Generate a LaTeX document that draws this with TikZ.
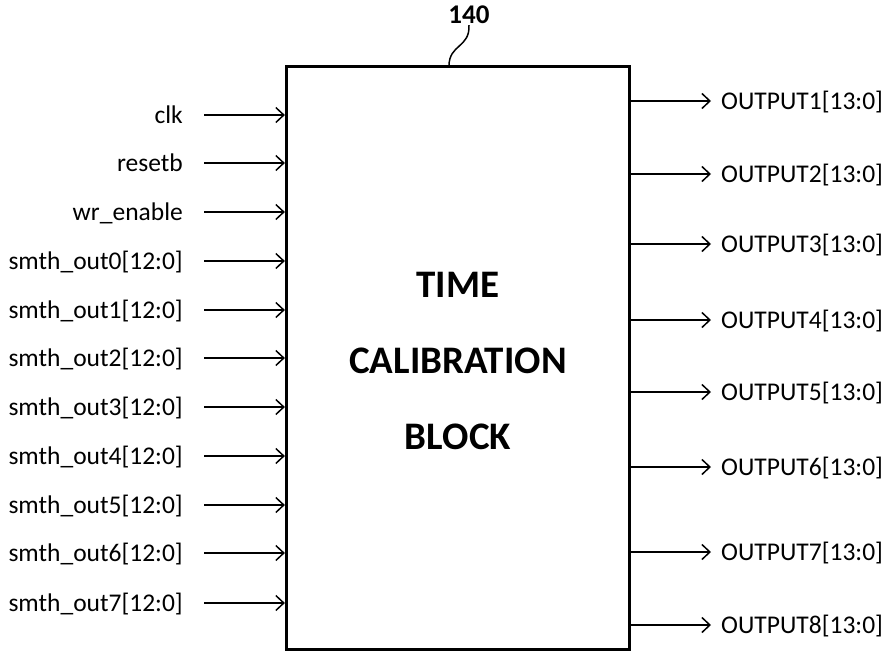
\documentclass[tikz,border=0pt]{standalone}
\usepackage{fontspec}
\setmainfont{Carlito}
\usetikzlibrary{arrows.meta}

\begin{document}
\begin{tikzpicture}[x=1pt, y=-1pt, >={Straight Barb[length=8pt,width=15pt,line width=1.5pt]},
  sig/.style={line width=1.8pt},
  inlbl/.style={anchor=east, inner xsep=21pt, inner ysep=0pt, text height=19pt, text depth=3pt, font=\fontsize{25.5}{28}\selectfont},
  outlbl/.style={anchor=west, inner xsep=10pt, inner ysep=0pt, text height=19pt, text depth=3pt, font=\fontsize{25.5}{28}\selectfont}]

  % Page frame
  \useasboundingbox (0,0) rectangle (887,654);

  % Block
  \node[draw, line width=3.2pt, minimum width=343pt, minimum height=583pt, inner sep=0pt] (tcb) at (458,358) {};
  \node[align=center, font=\fontsize{39}{76}\selectfont\bfseries] (title) at (458,361) {TIME\\CALIBRATION\\BLOCK};

  % Reference number
  \node[font=\fontsize{27}{28}\selectfont\bfseries, inner sep=1pt] (num) at (469,15) {140};
  \coordinate (lead) at (449,66);
  \draw[line width=1.5pt] (num.south) .. controls (470,48) and (449,44) .. (lead);

  % Inputs
  \node[inlbl] (clk) at (204,115) {clk};
  \node[inlbl] (rst) at (204,163) {resetb};
  \node[inlbl] (wren) at (204,212) {wr\_enable};
  \node[inlbl] (smth0) at (204,261) {smth\_out0[12:0]};
  \node[inlbl] (smth1) at (204,310) {smth\_out1[12:0]};
  \node[inlbl] (smth2) at (204,358) {smth\_out2[12:0]};
  \node[inlbl] (smth3) at (204,407) {smth\_out3[12:0]};
  \node[inlbl] (smth4) at (204,456) {smth\_out4[12:0]};
  \node[inlbl] (smth5) at (204,505) {smth\_out5[12:0]};
  \node[inlbl] (smth6) at (204,553) {smth\_out6[12:0]};
  \node[inlbl] (smth7) at (204,603) {smth\_out7[12:0]};

  \draw[->, sig] (clk) -- (clk -| tcb.west);
  \draw[->, sig] (rst) -- (rst -| tcb.west);
  \draw[->, sig] (wren) -- (wren -| tcb.west);
  \draw[->, sig] (smth0) -- (smth0 -| tcb.west);
  \draw[->, sig] (smth1) -- (smth1 -| tcb.west);
  \draw[->, sig] (smth2) -- (smth2 -| tcb.west);
  \draw[->, sig] (smth3) -- (smth3 -| tcb.west);
  \draw[->, sig] (smth4) -- (smth4 -| tcb.west);
  \draw[->, sig] (smth5) -- (smth5 -| tcb.west);
  \draw[->, sig] (smth6) -- (smth6 -| tcb.west);
  \draw[->, sig] (smth7) -- (smth7 -| tcb.west);

  % Outputs
  \node[outlbl] (out1) at (711,101) {OUTPUT1[13:0]};
  \node[outlbl] (out2) at (711,174) {OUTPUT2[13:0]};
  \node[outlbl] (out3) at (711,244) {OUTPUT3[13:0]};
  \node[outlbl] (out4) at (711,320) {OUTPUT4[13:0]};
  \node[outlbl] (out5) at (711,392) {OUTPUT5[13:0]};
  \node[outlbl] (out6) at (711,467) {OUTPUT6[13:0]};
  \node[outlbl] (out7) at (711,552) {OUTPUT7[13:0]};
  \node[outlbl] (out8) at (711,625) {OUTPUT8[13:0]};

  \draw[->, sig] (tcb.east |- out1) -- (out1);
  \draw[->, sig] (tcb.east |- out2) -- (out2);
  \draw[->, sig] (tcb.east |- out3) -- (out3);
  \draw[->, sig] (tcb.east |- out4) -- (out4);
  \draw[->, sig] (tcb.east |- out5) -- (out5);
  \draw[->, sig] (tcb.east |- out6) -- (out6);
  \draw[->, sig] (tcb.east |- out7) -- (out7);
  \draw[->, sig] (tcb.east |- out8) -- (out8);

\end{tikzpicture}
\end{document}
